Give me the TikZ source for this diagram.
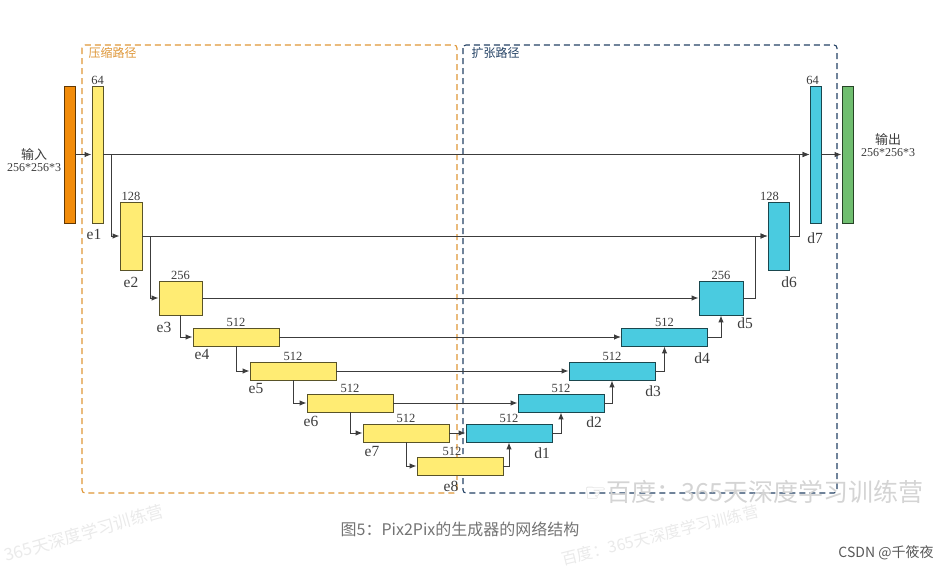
\documentclass[tikz,border=0pt]{standalone}
\usepackage{fontspec}
\setmainfont{Liberation Serif}
\newfontfamily\cjk{Noto Sans CJK SC}
\newfontfamily\symb{DejaVu Sans}
\usetikzlibrary{arrows.meta, positioning, calc}
\definecolor{GenYellow}{RGB}{255, 236, 115}
\definecolor{GenCyan}{RGB}{74, 203, 224}
\definecolor{GenOrange}{RGB}{242, 140, 10}
\definecolor{GenGreen}{RGB}{112, 190, 112}
\definecolor{PathOrange}{RGB}{222, 150, 55}
\definecolor{PathBlue}{RGB}{35, 65, 100}
\definecolor{LineGray}{RGB}{60, 60, 60}
\definecolor{MarkGray}{RGB}{212, 212, 212}

\begin{document}
\begin{tikzpicture}[x=1pt, y=-1pt,
  wh/.style 2 args={minimum width=#1pt, minimum height=#2pt},
  enc/.style={fill=GenYellow, draw=GenYellow!35!black, line width=0.9pt, inner sep=0pt},
  dec/.style={fill=GenCyan, draw=GenCyan!35!black, line width=0.9pt, inner sep=0pt},
  num/.style={font=\fontsize{12.5}{12.5}\selectfont, text=LineGray, inner sep=1pt},
  tag/.style={font=\fontsize{15.5}{15.5}\selectfont, text=LineGray, inner sep=0pt},
  link/.style={LineGray, line width=1pt, -{Latex[length=7pt, width=5.5pt]}},
  pathbox/.style={dash pattern=on 6pt off 4pt, line width=1.1pt, rounded corners=3pt}]

  \useasboundingbox (0,0) rectangle (951,570);

  % compression / expansion paths
  \draw[pathbox, PathOrange] (82,45) rectangle (457,493);
  \draw[pathbox, PathBlue] (463,45) rectangle (837,493);
  \node[font=\cjk\fontsize{12}{12}\selectfont, text=PathOrange, anchor=west] (pc) at (85,53) {压缩路径};
  \node[font=\cjk\fontsize{12}{12}\selectfont, text=PathBlue, anchor=west] (pe) at (468,53) {扩张路径};

  % input / output
  \node[fill=GenOrange, draw=GenOrange!40!black, line width=0.9pt, wh={11}{137}] (inp) at (69.5,154.5) {};
  \node[fill=GenGreen, draw=GenGreen!35!black, line width=0.9pt, wh={11}{137}] (outp) at (847.5,154.5) {};
  \node[align=center, text=LineGray, inner sep=0pt] (tin) at (34,160)
    {{\cjk\fontsize{13}{13}\selectfont 输入}\\[0pt]{\fontsize{12}{12}\selectfont 256*256*3}};
  \node[align=center, text=LineGray, inner sep=0pt] (tout) at (888,145)
    {{\cjk\fontsize{13}{13}\selectfont 输出}\\[0pt]{\fontsize{12}{12}\selectfont 256*256*3}};

  % encoder
  \node[enc, wh={11}{137}, label={[num]above:64}] (e1) at (97.5,154.5) {};
  \node[enc, wh={22}{68}, label={[num]above:128}] (e2) at (131,236) {};
  \node[enc, wh={43}{34}, label={[num]above:256}] (e3) at (180.5,298) {};
  \node[enc, wh={86}{18}, label={[num]above:512}] (e4) at (236,337) {};
  \node[enc, wh={86}{18}, label={[num]above:512}] (e5) at (293,371) {};
  \node[enc, wh={86}{18}, label={[num]above:512}] (e6) at (350,403) {};
  \node[enc, wh={86}{18}, label={[num]above:512}] (e7) at (406,433) {};
  \node[enc, wh={86}{18}, label={[num, xshift=-8pt]above:512}] (e8) at (460,466) {};

  % decoder
  \node[dec, wh={86}{18}, label={[num]above:512}] (d1) at (509,433) {};
  \node[dec, wh={86}{18}, label={[num]above:512}] (d2) at (561,403) {};
  \node[dec, wh={86}{18}, label={[num]above:512}] (d3) at (612,371) {};
  \node[dec, wh={86}{18}, label={[num]above:512}] (d4) at (664.5,337) {};
  \node[dec, wh={44}{34}, label={[num]above:256}] (d5) at (721,298) {};
  \node[dec, wh={21}{68}, label={[num, xshift=-9pt]above:128}] (d6) at (778.5,236) {};
  \node[dec, wh={11}{137}, label={[num, xshift=-3pt]above:64}] (d7) at (815.5,154.5) {};

  % block names
  \node[tag] (te1) at (94,234) {e1};
  \node[tag] (te2) at (131,282) {e2};
  \node[tag] (te3) at (164,327) {e3};
  \node[tag] (te4) at (202,354) {e4};
  \node[tag] (te5) at (256,388) {e5};
  \node[tag] (te6) at (311,421) {e6};
  \node[tag] (te7) at (372,451) {e7};
  \node[tag] (te8) at (451,486) {e8};
  \node[tag] (td1) at (542,453) {d1};
  \node[tag] (td2) at (594,422) {d2};
  \node[tag] (td3) at (653,391) {d3};
  \node[tag] (td4) at (702,358) {d4};
  \node[tag] (td5) at (745,323) {d5};
  \node[tag] (td6) at (789,282) {d6};
  \node[tag] (td7) at (815,238) {d7};

  % down path
  \draw[link] (inp) -- (e1);
  \draw[link] ($(e1.east)+(8,0)$) |- (e2.west);
  \draw[link] ($(e2.east)+(8,0)$) |- (e3.west);
  \draw[link] (e3.south) |- (e4.west);
  \draw[link] (e4.south) |- (e5.west);
  \draw[link] (e5.south) |- (e6.west);
  \draw[link] (e6.south) |- (e7.west);
  \draw[link] (e7.south) |- (e8.west);

  % skip connections
  \draw[link] (e1) -- (d7);
  \draw[link] (e2) -- (d6);
  \draw[link] (e3) -- (d5);
  \draw[link] (e4) -- (d4);
  \draw[link] (e5) -- (d3);
  \draw[link] (e6) -- (d2);
  \draw[link] (e7) -- (d1);

  % up path
  \draw[link] (e8.east) -| (d1.south);
  \draw[link] (d1.east) -| (d2.south);
  \draw[link] (d2.east) -| (d3.south);
  \draw[link] (d3.east) -| (d4.south);
  \draw[link] (d4.east) -| (d5.south);
  \draw[link] (d5.east) -- ++(12,0) |- (d6.west);
  \draw[link] (d6.east) -- ++(10,0) |- (d7.west);
  \draw[link] (d7) -- (outp);

  % caption and marks
  \node[font=\cjk\fontsize{16}{16}\selectfont, text=black!55] (cap) at (460,529) {图5：Pix2Pix的生成器的网络结构};
  \node[font=\cjk\fontsize{14}{14}\selectfont, text=black!65] (src) at (886,553) {CSDN @千筱夜};
  \node[font=\cjk\fontsize{25}{25}\selectfont, text=MarkGray, anchor=east] (wm1) at (927,492)
    {{\symb ☞}百度：365天深度学习训练营};
  \node[font=\cjk\fontsize{17}{17}\selectfont, text=MarkGray!50, rotate=16] (wm2) at (84,533) {365天深度学习训练营};
  \node[font=\cjk\fontsize{16}{16}\selectfont, text=MarkGray!50, rotate=14] (wm3) at (660,535) {百度：365天深度学习训练营};
\end{tikzpicture}
\end{document}
